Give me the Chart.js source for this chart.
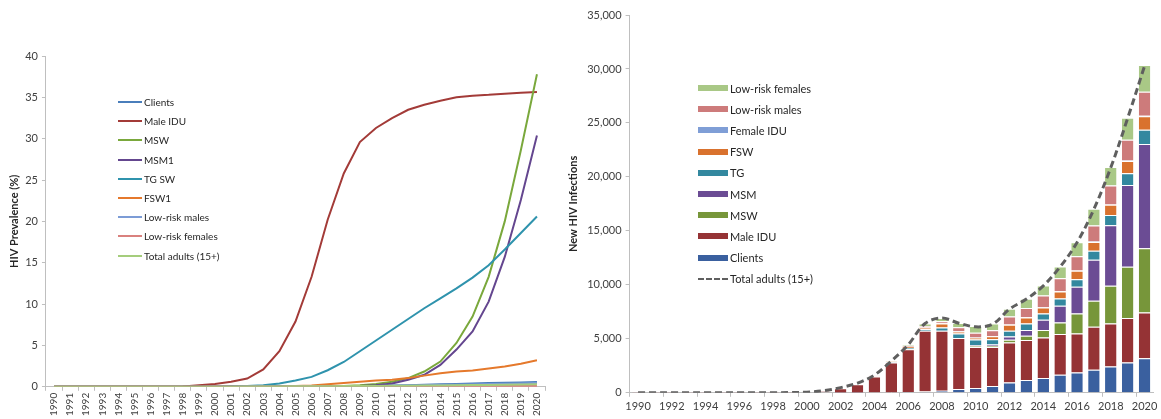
<!DOCTYPE html>
<html>
<head>
<meta charset="utf-8">
<script src="https://cdn.jsdelivr.net/npm/chart.js@4/dist/chart.umd.min.js"></script>
<style>
    body { margin: 0; background: #fff; width: 1161px; height: 419px; position: relative; overflow: hidden; font-family: Lato, sans-serif; }
    .box { position: absolute; top: 0; height: 419px; }
    #left { left: 0; width: 555px; }
    #right { left: 560px; width: 601px; }
    .legend { position: absolute; color: #262626; }
    .legend .item { position: absolute; white-space: nowrap; display: flex; align-items: center; }
    .legend .sw { display: inline-block; margin-right: 2px; }
</style>
</head>
<body>
<div class="box" id="left"><canvas id="ChartPrev"></canvas></div>
<div class="box" id="right"><canvas id="ChartNew"></canvas></div>
<div class="legend" id="legendPrev"></div>
<div class="legend" id="legendNew"></div>
<script>
(function () {
    "use strict";

    // Categories
    const years = [];
    for (let y = 1990; y <= 2020; y++) years.push(String(y));

    // Left chart: HIV prevalence (%)
    const prevClients = [0, 0, 0, 0, 0, 0, 0, 0, 0, 0, 0.02, 0.03, 0.04, 0.05, 0.06, 0.07, 0.08, 0.09, 0.1, 0.1, 0.12, 0.15, 0.2, 0.25, 0.3, 0.35, 0.4, 0.45, 0.5, 0.53, 0.57];
    const prevMaleIDU = [0, 0, 0, 0, 0, 0, 0, 0, 0.05, 0.2, 0.35, 0.6, 1.0, 2.1, 4.3, 7.9, 13.3, 20.2, 25.8, 29.6, 31.3, 32.5, 33.5, 34.1, 34.6, 35.0, 35.2, 35.3, 35.45, 35.55, 35.65];
    const prevMSW = [0, 0, 0, 0, 0, 0, 0, 0, 0, 0, 0, 0, 0, 0, 0, 0, 0.02, 0.05, 0.1, 0.2, 0.35, 0.6, 1.05, 1.85, 3.05, 5.3, 8.5, 13.3, 20.0, 28.6, 37.8];
    const prevMSM1 = [0, 0, 0, 0, 0, 0, 0, 0, 0, 0, 0, 0, 0, 0, 0, 0, 0.01, 0.03, 0.05, 0.1, 0.2, 0.4, 0.85, 1.45, 2.65, 4.5, 6.7, 10.3, 15.7, 22.6, 30.4];
    const prevTGSW = [0, 0, 0, 0, 0, 0, 0, 0, 0, 0, 0.02, 0.05, 0.1, 0.2, 0.4, 0.75, 1.2, 2.0, 3.0, 4.3, 5.6, 6.9, 8.2, 9.5, 10.7, 11.9, 13.2, 14.7, 16.6, 18.6, 20.6];
    const prevFSW1 = [0, 0, 0, 0, 0, 0, 0, 0, 0, 0, 0, 0.01, 0.02, 0.03, 0.05, 0.1, 0.15, 0.3, 0.45, 0.6, 0.75, 0.85, 1.05, 1.35, 1.65, 1.85, 1.97, 2.2, 2.45, 2.8, 3.2];
    const prevLowMales = [0, 0, 0, 0, 0, 0, 0, 0, 0, 0, 0.01, 0.02, 0.03, 0.04, 0.05, 0.06, 0.07, 0.08, 0.09, 0.1, 0.11, 0.13, 0.15, 0.18, 0.21, 0.25, 0.29, 0.33, 0.37, 0.41, 0.45];
    const prevLowFemales = [0, 0, 0, 0, 0, 0, 0, 0, 0, 0, 0, 0.01, 0.01, 0.02, 0.02, 0.03, 0.03, 0.04, 0.04, 0.05, 0.05, 0.06, 0.06, 0.07, 0.07, 0.08, 0.08, 0.09, 0.09, 0.1, 0.1];
    const prevTotal = [0, 0, 0, 0, 0, 0, 0, 0, 0, 0.01, 0.01, 0.02, 0.03, 0.04, 0.05, 0.06, 0.07, 0.08, 0.09, 0.1, 0.11, 0.12, 0.13, 0.15, 0.17, 0.19, 0.21, 0.23, 0.25, 0.28, 0.3];

    // Right chart: new HIV infections
    const newClients = [0, 0, 0, 0, 0, 0, 0, 0, 0, 0, 0, 0, 5, 10, 20, 30, 80, 120, 190, 350, 450, 620, 950, 1180, 1360, 1670, 1880, 2130, 2440, 2810, 3210];
    const newMaleIDU = [5, 5, 5, 5, 5, 5, 5, 5, 5, 10, 50, 170, 420, 780, 1480, 2780, 3960, 5620, 5550, 4720, 3800, 3620, 3710, 3700, 3760, 3770, 3610, 3980, 3980, 4110, 4230];
    const newMSW = [0, 0, 0, 0, 0, 0, 0, 0, 0, 0, 0, 0, 0, 0, 0, 0, 0, 0, 0, 0, 60, 120, 250, 400, 690, 1070, 1850, 2410, 3490, 4750, 5950];
    const newMSM = [0, 0, 0, 0, 0, 0, 0, 0, 0, 0, 0, 0, 0, 0, 0, 0, 0, 0, 0, 0, 90, 120, 300, 530, 950, 1550, 2480, 3800, 5620, 7590, 9670];
    const newTG = [0, 0, 0, 0, 0, 0, 0, 0, 0, 0, 0, 0, 0, 10, 30, 40, 120, 150, 310, 430, 530, 470, 530, 610, 580, 670, 710, 830, 950, 1080, 1300];
    const newFSW = [0, 0, 0, 0, 0, 0, 0, 0, 0, 0, 0, 0, 0, 5, 30, 40, 100, 150, 370, 190, 180, 280, 560, 550, 560, 650, 770, 830, 930, 1140, 1260];
    const newFemaleIDU = [0, 0, 0, 0, 0, 0, 0, 0, 0, 0, 0, 0, 0, 0, 0, 5, 10, 10, 15, 15, 20, 20, 25, 25, 30, 30, 35, 35, 40, 45, 50];
    const newLowMales = [0, 0, 0, 0, 0, 0, 0, 0, 0, 0, 0, 0, 0, 5, 20, 30, 80, 120, 190, 370, 430, 550, 740, 870, 1080, 1210, 1320, 1480, 1760, 1910, 2220];
    const newLowFemales = [0, 0, 0, 0, 0, 0, 0, 0, 0, 0, 0, 0, 0, 5, 20, 30, 100, 260, 310, 400, 620, 620, 710, 840, 930, 1080, 1300, 1550, 1700, 2050, 2470];
    const newTotal = [10, 10, 10, 10, 10, 10, 10, 10, 10, 20, 60, 190, 480, 900, 1650, 2950, 4450, 6420, 6920, 6450, 6110, 6360, 7750, 8680, 9910, 11670, 13920, 17010, 20870, 25440, 30280];

    const axisGray = '#bfbfbf';
    const textGray = '#404040';

    Chart.defaults.font.family = 'Lato, sans-serif';
    Chart.defaults.color = textGray;

    // Left: prevalence lines
    const lineSeries = [
        ['Clients', prevClients, '#4a7ebb'],
        ['Male IDU', prevMaleIDU, '#a33b38'],
        ['MSW', prevMSW, '#7aa83c'],
        ['MSM1', prevMSM1, '#64468f'],
        ['TG SW', prevTGSW, '#2f93ad'],
        ['FSW1', prevFSW1, '#e5792c'],
        ['Low-risk males', prevLowMales, '#7c9cd6'],
        ['Low-risk females', prevLowFemales, '#d9817e'],
        ['Total adults (15+)', prevTotal, '#a5cd7c']
    ];

    new Chart(document.getElementById('ChartPrev'), {
        type: 'line',
        data: {
            labels: years,
            datasets: lineSeries.map(s => ({
                label: s[0],
                data: s[1],
                borderColor: s[2],
                backgroundColor: s[2],
                borderWidth: 2,
                pointRadius: 0,
                tension: 0
            })).reverse()
        },
        options: {
            responsive: true,
            maintainAspectRatio: false,
            animation: false,
            layout: { padding: { left: 8, top: 56, right: 10, bottom: 1 } },
            scales: {
                x: {
                    offset: true,
                    grid: { offset: true, drawOnChartArea: false, tickLength: 4, color: axisGray },
                    border: { color: axisGray },
                    ticks: { autoSkip: false, maxRotation: 90, minRotation: 90, padding: 2, font: { size: 10 } }
                },
                y: {
                    min: 0,
                    max: 40,
                    grid: { drawOnChartArea: false, tickLength: 4, color: axisGray },
                    border: { color: axisGray },
                    ticks: { stepSize: 5, padding: 4, font: { size: 11 } },
                    title: { display: true, text: 'HIV Prevalence (%)', font: { size: 11, weight: 'bold' }, color: '#262626', padding: 0 }
                }
            },
            plugins: { legend: { display: false }, tooltip: { enabled: false } }
        }
    });

    // Right: stacked new infections
    const barSeries = [
        ['Clients', newClients, '#3a609f'],
        ['Male IDU', newMaleIDU, '#953335'],
        ['MSW', newMSW, '#77963a'],
        ['MSM', newMSM, '#6b4c94'],
        ['TG', newTG, '#33889f'],
        ['FSW', newFSW, '#d9722e'],
        ['Female IDU', newFemaleIDU, '#7f9ed6'],
        ['Low-risk males', newLowMales, '#cd7b7b'],
        ['Low-risk females', newLowFemales, '#a9c886']
    ];
    const totalColor = '#5f5f5f';

    const barSets = barSeries.map(s => ({
        type: 'bar',
        label: s[0],
        data: s[1],
        backgroundColor: s[2],
        borderColor: '#ffffff',
        borderWidth: { top: 1, bottom: 0, left: 0, right: 0 },
        borderSkipped: false,
        stack: 'groups',
        order: 1,
        barPercentage: 0.68,
        categoryPercentage: 1
    }));

    new Chart(document.getElementById('ChartNew'), {
        type: 'bar',
        data: {
            labels: years,
            datasets: barSets.concat([{
                type: 'line',
                label: 'Total adults (15+)',
                data: newTotal,
                borderColor: totalColor,
                borderWidth: 3,
                borderDash: [7, 4],
                pointRadius: 0,
                tension: 0.35,
                stack: 'total',
                order: 0
            }])
        },
        options: {
            responsive: true,
            maintainAspectRatio: false,
            animation: false,
            layout: { padding: { left: 4, top: 15, right: 8, bottom: 3 } },
            scales: {
                x: {
                    stacked: true,
                    grid: {
                        drawOnChartArea: false,
                        tickLength: 4,
                        color: ctx => (ctx.index % 2 === 0 ? axisGray : 'rgba(0,0,0,0)')
                    },
                    border: { color: axisGray },
                    ticks: {
                        autoSkip: false,
                        maxRotation: 0,
                        padding: 3,
                        font: { size: 11 },
                        callback: (v, i) => (i % 2 === 0 ? years[i] : '')
                    }
                },
                y: {
                    stacked: true,
                    min: 0,
                    max: 35000,
                    grid: { drawOnChartArea: false, tickLength: 4, color: axisGray },
                    border: { color: axisGray },
                    ticks: {
                        stepSize: 5000,
                        padding: 4,
                        font: { size: 11 },
                        callback: v => v.toLocaleString('en-US')
                    },
                    title: { display: true, text: 'New HIV Infections', font: { size: 11, weight: 'bold' }, color: '#262626', padding: 3 }
                }
            },
            plugins: { legend: { display: false }, tooltip: { enabled: false } }
        }
    });

    // HTML legends placed inside the plot areas
    function buildLegend(id, items, left, top, step, swW, swH, fontSize) {
        const box = document.getElementById(id);
        box.style.left = left + 'px';
        box.style.top = top + 'px';
        box.style.fontSize = fontSize + 'px';
        items.forEach((it, i) => {
            const row = document.createElement('div');
            row.className = 'item';
            row.style.top = (i * step) + 'px';
            row.style.height = '14px';
            const sw = document.createElement('span');
            sw.className = 'sw';
            sw.style.width = swW + 'px';
            if (it.dash) {
                sw.style.height = '0';
                sw.style.borderTop = '2px dashed ' + it.color;
            } else {
                sw.style.height = swH + 'px';
                sw.style.background = it.color;
            }
            row.appendChild(sw);
            row.appendChild(document.createTextNode(it.label));
            box.appendChild(row);
        });
    }

    buildLegend('legendPrev', lineSeries.map(s => ({ label: s[0], color: s[2] })), 118, 95, 19.2, 24, 2, 10);

    const newLegend = barSeries.slice().reverse().map(s => ({ label: s[0], color: s[2] }));
    newLegend.push({ label: 'Total adults (15+)', color: totalColor, dash: true });
    buildLegend('legendNew', newLegend, 698, 81, 21.2, 30, 6, 11);
})();
</script>
</body>
</html>
